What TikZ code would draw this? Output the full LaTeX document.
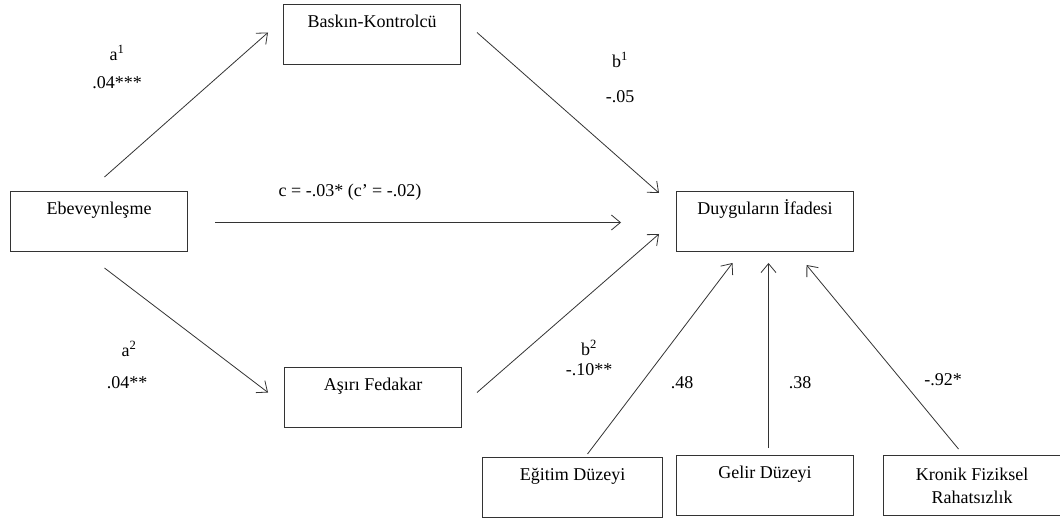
\documentclass[tikz,border=0pt]{standalone}
\usepackage{fontspec}
\setmainfont{Liberation Serif}
\usetikzlibrary{arrows.meta}
\begin{document}
\begin{tikzpicture}[x=1pt,y=-1pt,
  box/.style={draw=black!80, line width=1pt, minimum width=177pt, minimum height=60pt,
    inner sep=0pt, text height=23pt, text depth=37pt, anchor=north west,
    font=\fontsize{18}{20}\selectfont},
  box2/.style={draw=black!80, line width=1pt, minimum width=177pt, minimum height=60pt,
    inner sep=0pt, align=center, anchor=north west, font=\fontsize{18}{23}\selectfont},
  arr/.style={draw=black!80, line width=0.8pt, -{Straight Barb[length=9pt,width=15pt]}},
  lab/.style={inner sep=0pt, font=\fontsize{18}{20}\selectfont}]
\useasboundingbox[fill=white] (0,0) rectangle (1060,521);
% boxes
\node[box] (bk) at (283,4) {Baskın-Kontrolcü};
\node[box] (eb) at (10,191) {Ebeveynleşme};
\node[box] (du) at (676,191) {Duyguların İfadesi};
\node[box] (af) at (284,367) {Aşırı Fedakar};
\node[box, minimum width=180pt] (eg) at (482,457) {Eğitim Düzeyi};
\node[box] (ge) at (676,455) {Gelir Düzeyi};
\node[box2] (kr) at (883,455) {Kronik Fiziksel\\Rahatsızlık};
% connectors
\draw[arr] ([shift={(5.5,-14)}]eb.north) -- ([shift={(-15,-2)}]bk.west);
\draw[arr] ([shift={(16,-2)}]bk.east) -- ([shift={(-17,2)}]du.north west);
\draw[arr] ([shift={(27,1)}]eb.east) -- ([shift={(-55,1)}]du.west);
\draw[arr] ([shift={(5.5,16)}]eb.south) -- ([shift={(-16,-5)}]af.west);
\draw[arr] ([shift={(15,-5)}]af.east) -- ([shift={(-17,-18)}]du.south west);
\draw[arr] ([shift={(15,-3)}]eg.north) -- ([shift={(-32.5,11)}]du.south);
\draw[arr] ([shift={(3.5,-7)}]ge.north) -- ([shift={(3.5,11)}]du.south);
\draw[arr] ([shift={(-13.5,-6)}]kr.north) -- ([shift={(41.5,13)}]du.south);
% labels
\node[lab] (la1) at (117,53) {a\textsuperscript{1}};
\node[lab] (la1v) at (117,83) {.04***};
\node[lab] (lc) at (350,192) {c = -.03* (c’ = -.02)};
\node[lab] (lb1) at (620,60) {b\textsuperscript{1}};
\node[lab] (lb1v) at (620,97) {-.05};
\node[lab] (la2) at (129,349) {a\textsuperscript{2}};
\node[lab] (la2v) at (127,383) {.04**};
\node[lab] (lb2) at (589,348) {b\textsuperscript{2}};
\node[lab] (lb2v) at (589,370) {-.10**};
\node[lab] (le) at (682,383) {.48};
\node[lab] (lg) at (800,383) {.38};
\node[lab] (lk) at (943,380) {-.92*};
\end{tikzpicture}
\end{document}
